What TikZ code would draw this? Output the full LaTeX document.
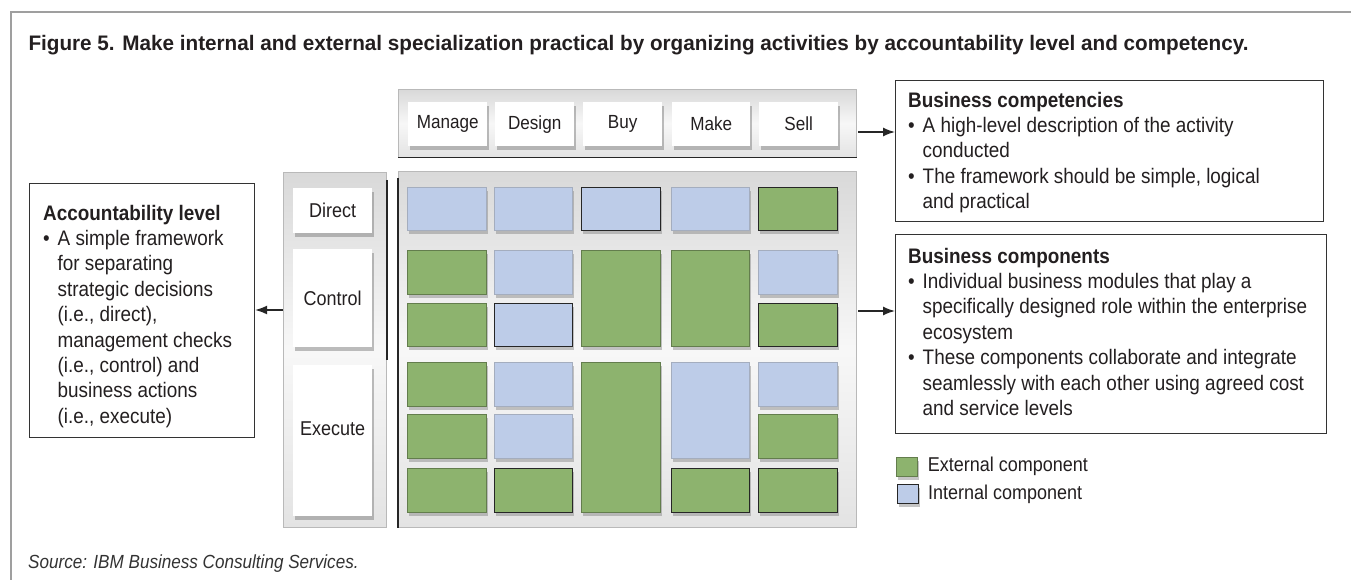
\documentclass[tikz,border=0pt]{standalone}
\usepackage{fontspec}
\setmainfont{Liberation Sans}[FakeStretch=0.9]
\newfontfamily\headfont{Liberation Sans}[FakeStretch=0.985]
\usetikzlibrary{shadows,positioning,arrows.meta}
\definecolor{extgreen}{RGB}{141,179,110}
\definecolor{intblue}{RGB}{189,204,232}
\definecolor{inktext}{RGB}{35,31,32}
\newcommand{\bl}{\makebox[14.5pt][l]{\textbullet}}
\newcommand{\ind}{\hspace*{14.5pt}}
\begin{document}
\begin{tikzpicture}[x=1pt, y=-1pt, inktext,
	panel/.style={anchor=north west, inner sep=0pt, draw=gray!55, line width=0.8pt, top color=gray!30, bottom color=gray!22, middle color=gray!6},
	tag/.style={anchor=north west, inner sep=0pt, fill=white, drop shadow={shadow xshift=1.5pt, shadow yshift=-3.5pt, opacity=.5}, font=\fontsize{19}{22}\selectfont},
	ext/.style={anchor=north west, inner sep=0pt, fill=extgreen, draw=extgreen!70!black, line width=0.6pt, drop shadow={shadow xshift=1.5pt, shadow yshift=-3.5pt, opacity=.45}},
	int/.style={anchor=north west, inner sep=0pt, fill=intblue, draw=intblue!60!gray, line width=0.6pt, drop shadow={shadow xshift=1.5pt, shadow yshift=-3.5pt, opacity=.45}},
	darkrim/.style={draw=black!85, line width=0.9pt},
	infobox/.style={anchor=north west, inner sep=0pt, draw=black!80, line width=1.1pt, fill=white},
	txt/.style={anchor=north west, inner sep=0pt, align=left, font=\fontsize{21}{25.4}\selectfont},
	arr/.style={-{Latex[length=12pt,width=9pt]}, line width=1.5pt, black!85}]
	\useasboundingbox[fill=white] (0,0) rectangle (1351,580);
	\draw[gray!75, line width=1.3pt] (1351,12) -- (11,12) -- (11,580);
	\node[anchor=base west, font=\headfont\bfseries\fontsize{21}{25}\selectfont] (title) at (25,51) {Figure 5. Make internal and external specialization practical by organizing activities by accountability level and competency.};
	% competencies across the top
	\node[panel, minimum width=458pt, minimum height=68pt] (compbar) at (398,89) {};
	\draw[black!85, line width=1pt] (compbar.south west) -- (compbar.south east);
	\node[tag, minimum width=79pt, minimum height=44pt] (manage) at (408,102) {Manage};
	\node[tag, minimum width=79pt, minimum height=44pt] (design) at (495,102) {Design};
	\node[tag, minimum width=79pt, minimum height=44pt] (buy) at (583,102) {Buy};
	\node[tag, minimum width=78pt, minimum height=44pt] (make) at (672,102) {Make};
	\node[tag, minimum width=79pt, minimum height=44pt] (sell) at (759,102) {Sell};
	% accountability levels down the side
	\node[panel, minimum width=103pt, minimum height=355pt] (levelbar) at (283,172) {};
	\draw[black!85, line width=1.2pt] (387,180) -- (387,360);
	\node[tag, minimum width=79pt, minimum height=45pt, font=\fontsize{20}{22}\selectfont] (direct) at (293,188) {Direct};
	\node[tag, minimum width=79pt, minimum height=98pt, font=\fontsize{20}{22}\selectfont] (control) at (293,249) {Control};
	\node[tag, minimum width=79pt, minimum height=151pt, font=\fontsize{20}{22}\selectfont, text depth=25pt] (execute) at (293,365) {Execute};
	% component grid
	\node[panel, minimum width=458pt, minimum height=356pt] (grid) at (398,171) {};
	\draw[black!85, line width=1.2pt] (398,178) -- (grid.south west);
	\node[int, minimum width=79pt, minimum height=43pt] (c11) at (407,187) {};
	\node[int, minimum width=78pt, minimum height=43pt] (c12) at (494,187) {};
	\node[int, darkrim, minimum width=79pt, minimum height=43pt] (c13) at (581,187) {};
	\node[int, minimum width=78pt, minimum height=43pt] (c14) at (671,187) {};
	\node[ext, darkrim, minimum width=79pt, minimum height=43pt] (c15) at (758,187) {};
	\node[ext, minimum width=79pt, minimum height=44pt] (c21) at (407,250) {};
	\node[int, minimum width=78pt, minimum height=44pt] (c22) at (494,250) {};
	\node[ext, minimum width=79pt, minimum height=96pt] (c23) at (581,250) {};
	\node[ext, minimum width=78pt, minimum height=96pt] (c24) at (671,250) {};
	\node[int, minimum width=79pt, minimum height=44pt] (c25) at (758,250) {};
	\node[ext, minimum width=79pt, minimum height=43pt] (c31) at (407,303) {};
	\node[int, darkrim, minimum width=78pt, minimum height=43pt] (c32) at (494,303) {};
	\node[ext, darkrim, minimum width=79pt, minimum height=43pt] (c35) at (758,303) {};
	\node[ext, minimum width=79pt, minimum height=44pt] (c41) at (407,362) {};
	\node[int, minimum width=78pt, minimum height=44pt] (c42) at (494,362) {};
	\node[ext, minimum width=79pt, minimum height=150pt] (c43) at (581,362) {};
	\node[int, minimum width=78pt, minimum height=96pt] (c44) at (671,362) {};
	\node[int, minimum width=79pt, minimum height=44pt] (c45) at (758,362) {};
	\node[ext, minimum width=79pt, minimum height=44pt] (c51) at (407,414) {};
	\node[int, minimum width=78pt, minimum height=44pt] (c52) at (494,414) {};
	\node[ext, minimum width=79pt, minimum height=44pt] (c55) at (758,414) {};
	\node[ext, minimum width=79pt, minimum height=44pt] (c61) at (407,468) {};
	\node[ext, darkrim, minimum width=78pt, minimum height=44pt] (c62) at (494,468) {};
	\node[ext, darkrim, minimum width=78pt, minimum height=44pt] (c64) at (671,468) {};
	\node[ext, darkrim, minimum width=79pt, minimum height=44pt] (c65) at (758,468) {};
	% explanation boxes
	\node[infobox, minimum width=225pt, minimum height=254pt] (acc) at (29,183) {};
	\node[txt] (acctxt) at (43,204.7) {{\bfseries Accountability level}\\
		\bl A simple framework\\
		\ind for separating\\
		\ind strategic decisions\\
		\ind (i.e., direct),\\
		\ind management checks\\
		\ind (i.e., control) and\\
		\ind business actions\\
		\ind (i.e., execute)};
	\node[infobox, minimum width=428pt, minimum height=141pt] (comp) at (895,80) {};
	\node[txt] (comptxt) at (908,91.7) {{\bfseries Business competencies}\\
		\bl A high-level description of the activity\\
		\ind conducted\\
		\bl The framework should be simple, logical\\
		\ind and practical};
	\node[infobox, minimum width=431pt, minimum height=199pt] (parts) at (895,234) {};
	\node[txt] (partstxt) at (908,247.7) {{\bfseries Business components}\\
		\bl Individual business modules that play a\\
		\ind specifically designed role within the enterprise\\
		\ind ecosystem\\
		\bl These components collaborate and integrate\\
		\ind seamlessly with each other using agreed cost\\
		\ind and service levels};
	% arrows
	\coordinate (compstart) at (858,132);
	\coordinate (partstart) at (858,311);
	\draw[arr] (levelbar.west |- 0,310) -- (acc.east |- 0,310);
	\draw[arr] (compstart) -- (compstart -| comp.west);
	\draw[arr] (partstart) -- (partstart -| parts.west);
	% legend
	\node[ext, minimum width=21pt, minimum height=19pt] (extkey) at (896,457) {};
	\node[int, darkrim, minimum width=21pt, minimum height=19pt] (intkey) at (897,484) {};
	\node[anchor=west, inner sep=0pt, font=\fontsize{20}{22}\selectfont, right=10pt of extkey] (extlbl) {External component};
	\node[anchor=west, inner sep=0pt, font=\fontsize{20}{22}\selectfont, right=9pt of intkey] (intlbl) {Internal component};
	\node[anchor=base west, inner sep=0pt, font=\itshape\fontsize{19}{22}\selectfont, black!80] (src) at (28,568) {Source: IBM Business Consulting Services.};
\end{tikzpicture}
\end{document}
